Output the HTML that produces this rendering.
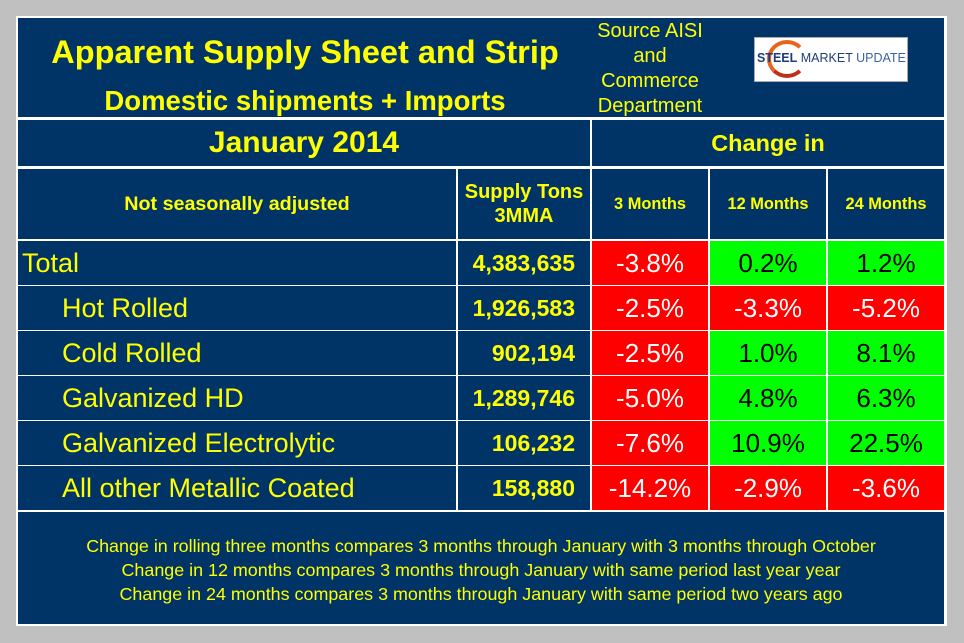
<!DOCTYPE html>
<html><head><meta charset="utf-8"><style>
body{margin:0;background:#c0c0c0;width:964px;height:643px;overflow:hidden;font-family:"Liberation Sans",Arial,sans-serif}
.frame{position:absolute;left:16px;top:16px;width:927px;height:606px;border:2px solid #fff;background:#fff}
.c{position:absolute;background:#003366;color:#ffff00;display:flex;align-items:center;justify-content:center;box-sizing:border-box;text-align:center;white-space:nowrap}
.r{background:#ff0000;color:#fff;font-size:26px}
.g{background:#00ff00;color:#000;font-size:26px}
.n{font-weight:bold;font-size:23px;justify-content:flex-end;padding-right:15px}
.lbl{justify-content:flex-start;font-size:27px}
</style></head><body>
<div class="frame"></div>
<div class="c" style="left:18px;top:18px;width:926px;height:99px"></div>
<div class="c" style="left:30px;top:32px;width:550px;height:40px;font-size:32.5px;font-weight:bold;background:none">Apparent Supply Sheet and Strip</div>
<div class="c" style="left:30px;top:85px;width:550px;height:32px;font-size:27.5px;font-weight:bold;background:none">Domestic shipments + Imports</div>
<div class="c" style="left:585px;top:19px;width:130px;height:96px;font-size:20px;line-height:25px;background:none;display:block">Source AISI<br>and<br>Commerce<br>Department</div>
<div style="position:absolute;left:754px;top:37px;width:152px;height:43px;background:#fff;border:1px solid #aab">
<div style="position:absolute;left:12px;top:2px;width:40px;height:38px;border-radius:50%;border:4px solid #e8641e;border-right-color:transparent;border-bottom-color:#c03018;box-sizing:border-box"></div>
<div style="position:absolute;left:2px;top:13px;font-size:12.5px;white-space:nowrap;color:#1f3d7a"><b>STEEL</b> MARKET <span style="color:#3a62a8">UPDATE</span></div></div>
<div class="c" style="left:18px;top:120px;width:572px;height:46px;font-size:30px;font-weight:bold">January 2014</div>
<div class="c" style="left:592px;top:120px;width:352px;height:46px;font-size:23.5px;font-weight:bold">Change in</div>
<div class="c" style="left:18px;top:169px;width:438px;height:70px;font-size:19.7px;font-weight:bold">Not seasonally adjusted</div>
<div class="c" style="left:458px;top:169px;width:132px;height:70px;font-size:20px;font-weight:bold;line-height:24px">Supply Tons<br>3MMA</div>
<div class="c" style="left:592px;top:169px;width:116px;height:70px;font-size:16.4px;font-weight:bold">3 Months</div>
<div class="c" style="left:710px;top:169px;width:116px;height:70px;font-size:16.4px;font-weight:bold">12 Months</div>
<div class="c" style="left:828px;top:169px;width:116px;height:70px;font-size:16.4px;font-weight:bold">24 Months</div>
<div id="rows"></div>
<div class="c" style="left:18px;top:512px;width:926px;height:112px;font-size:17.9px;line-height:24px;display:block;padding-top:22px">Change in rolling three months compares 3 months through January with 3 months through October<br>Change in 12 months compares 3 months through January with same period last year year<br>Change in 24 months compares 3 months through January with same period two years ago</div>
<script>
const labels=["Total","Hot Rolled","Cold Rolled","Galvanized HD","Galvanized Electrolytic","All other Metallic Coated"];
const supply=["4,383,635","1,926,583","902,194","1,289,746","106,232","158,880"];
const ch3=[-3.8,-2.5,-2.5,-5.0,-7.6,-14.2];
const ch12=[0.2,-3.3,1.0,4.8,10.9,-2.9];
const ch24=[1.2,-5.2,8.1,6.3,22.5,-3.6];
const host=document.getElementById('rows');
function cell(cls,l,t,w,h,txt,name,extra){const d=document.createElement('div');d.className='c '+cls;d.style.cssText=`left:${l}px;top:${t}px;width:${w}px;height:${h}px;`+(extra||'');d.textContent=txt;


host.appendChild(d);}
labels.forEach((lb,i)=>{const t=241+i*45,h=44;
cell('lbl',18,t,438,h,lb,'row-label',i===0?'padding-left:4px':'padding-left:44px');
cell('n',458,t,132,h,supply[i],'supply-tons');
[ch3,ch12,ch24].forEach((a,j)=>{const v=a[i];cell(v<0?'r':'g',592+j*118,t,116,h,v.toFixed(1)+'%','change-cell');});
});
</script>
</body></html>
